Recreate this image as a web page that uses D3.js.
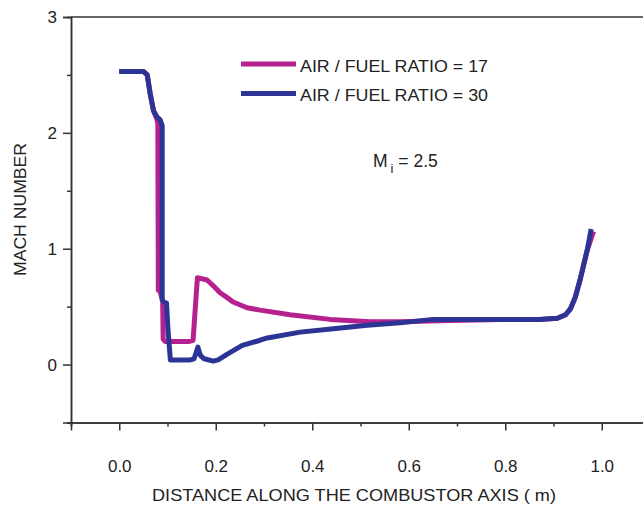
<!DOCTYPE html>
<html>
<head>
<meta charset="utf-8">
<script src="https://cdn.jsdelivr.net/npm/d3@7"></script>
<style>
  body { margin: 0; background: #fff; }
  svg { display: block; font-family: "Liberation Sans", Arial, sans-serif; }
</style>
</head>
<body>
<div id="chart"></div>
<script>
// AIR / FUEL RATIO = 17
var dist17 = [0, 0.05, 0.058, 0.064, 0.071, 0.078, 0.080, 0.081, 0.084, 0.090, 0.091, 0.095, 0.12, 0.145, 0.153,
  0.162, 0.182, 0.195, 0.209, 0.223, 0.236, 0.265, 0.292, 0.354, 0.437, 0.52, 0.582, 0.686, 0.79, 0.872,
  0.908, 0.925, 0.935, 0.945, 0.955, 0.97, 0.983];
var mach17 = [2.53, 2.53, 2.50, 2.34, 2.19, 2.12, 2.08, 0.64, 0.64, 0.55, 0.22, 0.20, 0.20, 0.20, 0.21,
  0.75, 0.73, 0.68, 0.62, 0.58, 0.54, 0.49, 0.47, 0.43, 0.39, 0.37, 0.37, 0.38, 0.39, 0.39,
  0.40, 0.43, 0.48, 0.58, 0.73, 0.99, 1.15];

// AIR / FUEL RATIO = 30
var dist30 = [0, 0.05, 0.058, 0.064, 0.071, 0.078, 0.085, 0.089, 0.089, 0.092, 0.098, 0.101, 0.106, 0.13, 0.147,
  0.155, 0.163, 0.168, 0.176, 0.195, 0.205, 0.224, 0.255, 0.292, 0.307, 0.375, 0.444, 0.514, 0.582, 0.65,
  0.72, 0.79, 0.87, 0.908, 0.925, 0.935, 0.945, 0.955, 0.97, 0.978];
var mach30 = [2.53, 2.53, 2.50, 2.34, 2.19, 2.14, 2.11, 2.06, 0.56, 0.54, 0.53, 0.30, 0.04, 0.04, 0.04,
  0.05, 0.15, 0.08, 0.05, 0.03, 0.04, 0.09, 0.165, 0.21, 0.23, 0.28, 0.31, 0.34, 0.36, 0.39,
  0.39, 0.39, 0.39, 0.40, 0.43, 0.48, 0.58, 0.73, 0.99, 1.17];

var xMajor = [0, 0.2, 0.4, 0.6, 0.8, 1.0];
var xMinor = [-0.1, 0.1, 0.3, 0.5, 0.7, 0.9, 1.1];
var yMajor = [0, 1, 2, 3];
var yMinor = [-0.5, 0.5, 1.5, 2.5];

var series = [
  { name: "AIR / FUEL RATIO = 17", x: dist17, y: mach17, color: "#b5218f" },
  { name: "AIR / FUEL RATIO = 30", x: dist30, y: mach30, color: "#2c3595" }
];

var width = 643, height = 505;
var svg = d3.select("#chart").append("svg")
  .attr("width", width)
  .attr("height", height);

var x = d3.scaleLinear().domain([-0.1, 1.1]).range([71, 650]);
var y = d3.scaleLinear().domain([-0.5, 3]).range([422.5, 17]);

var axisColor = "#333";

// minor ticks first
svg.append("g")
  .attr("transform", "translate(0," + y(-0.5) + ")")
  .call(d3.axisBottom(x).tickValues(xMinor).tickSize(4).tickFormat(""));
svg.append("g")
  .attr("transform", "translate(" + x(-0.1) + ",0)")
  .call(d3.axisLeft(y).tickValues(yMinor).tickSize(4).tickFormat(""));

// major ticks
svg.append("g")
  .attr("transform", "translate(0," + y(-0.5) + ")")
  .call(d3.axisBottom(x).tickValues(xMajor).tickSize(8).tickPadding(29).tickFormat(d3.format(".1f")));
svg.append("g")
  .attr("transform", "translate(" + x(-0.1) + ",0)")
  .call(d3.axisLeft(y).tickValues(yMajor).tickSize(8).tickPadding(6).tickFormat(d3.format("d")));

svg.selectAll(".domain").attr("stroke", axisColor).attr("stroke-width", 1.5);
svg.selectAll(".tick line").attr("stroke", axisColor).attr("stroke-width", 1.5);
svg.selectAll(".tick text")
  .attr("fill", "#222")
  .style("font-size", "17px")
  .style("font-family", "'Liberation Sans', Arial, sans-serif");

// top frame line
svg.append("line")
  .attr("x1", x(-0.1)).attr("x2", x(1.1))
  .attr("y1", y(3)).attr("y2", y(3))
  .attr("stroke", axisColor).attr("stroke-width", 1.5);

// curves
var line = d3.line()
  .x(function(d) { return x(d[0]); })
  .y(function(d) { return y(d[1]); });

series.forEach(function(s) {
  var pts = d3.zip(s.x, s.y);
  svg.append("path")
    .datum(pts)
    .attr("d", line)
    .attr("fill", "none")
    .attr("stroke", s.color)
    .attr("stroke-width", 5)
    .attr("stroke-linejoin", "round");
});

// legend
var legend = svg.append("g");
series.forEach(function(s, i) {
  var ly = 64 + i * 29.5;
  legend.append("line")
    .attr("x1", 241).attr("x2", 296)
    .attr("y1", ly).attr("y2", ly)
    .attr("stroke", s.color).attr("stroke-width", 5);
  legend.append("text")
    .attr("x", 300).attr("y", ly + 7.5)
    .attr("fill", "#222")
    .style("font-size", "17px")
    .attr("textLength", 188)
    .attr("lengthAdjust", "spacingAndGlyphs")
    .text(s.name);
});

// M_i annotation
var mi = svg.append("text")
  .attr("x", 373).attr("y", 167)
  .attr("fill", "#222")
  .style("font-size", "17.5px");
mi.append("tspan").text("M");
mi.append("tspan").attr("dx", 3).attr("dy", 6).style("font-size", "13px").text("i");
mi.append("tspan").attr("dy", -6).text(" = 2.5");

// axis titles
svg.append("text")
  .attr("x", 152).attr("y", 501)
  .attr("fill", "#222")
  .style("font-size", "16.5px")
  .attr("textLength", 404)
  .attr("lengthAdjust", "spacingAndGlyphs")
  .text("DISTANCE ALONG THE COMBUSTOR AXIS ( m)");

svg.append("text")
  .attr("transform", "translate(26,276) rotate(-90)")
  .attr("fill", "#222")
  .style("font-size", "16.5px")
  .attr("textLength", 133)
  .attr("lengthAdjust", "spacingAndGlyphs")
  .text("MACH NUMBER");
</script>
</body>
</html>
